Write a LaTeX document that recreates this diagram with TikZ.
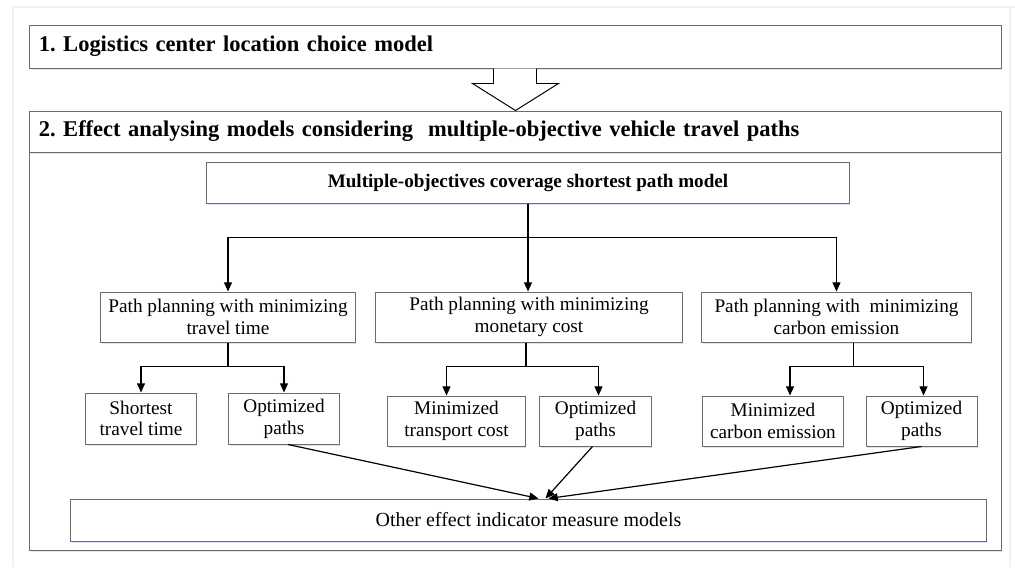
\documentclass[tikz,border=0pt]{standalone}
\usepackage{fontspec}
\setmainfont{Liberation Serif}
\usetikzlibrary{calc,arrows.meta,shadows}
\frenchspacing

\begin{document}
\begin{tikzpicture}[x=0.025cm,y=-0.025cm,
  box/.style={draw=gray!85!black, fill=white, line width=0.7pt, inner sep=0pt, align=center,
    font=\fontsize{13.7}{15.5}\selectfont,
    drop shadow={fill=blue!25!white, opacity=0.5, shadow xshift=0.6pt, shadow yshift=-1.4pt}},
  titlebox/.style={box, font=\fontsize{16}{19}\selectfont\bfseries, align=left,
    inner xsep=0.225cm, text width=23.825cm},
  link/.style={line width=0.85pt, -{Triangle[length=0.23cm,width=0.2cm]}}]
\useasboundingbox (0,0) rectangle (1015,567);
\draw[gray!12, line width=1.2pt] (13,567) -- (13,7) -- (1015,7);
\draw[gray!12, line width=1pt] (1010,7) -- (1010,567);

\node[box, minimum width=24.275cm, minimum height=9.95cm] (frame) at (515.5,351) {};
\node[titlebox, minimum height=1.025cm] (box2) at (515.5,131.5)
  {2. Effect analysing models considering\ \ multiple-objective vehicle travel paths};
\node[titlebox, minimum height=1.075cm] (box1) at (515.5,46.5) {1. Logistics center location choice model};
\draw[fill=white, line width=0.7pt, line join=miter] ($(box1.south)+(-22,0)$) -- ++(0,15) -- ++(-21,0)
  -- (box2.north) -- ($(box1.south)+(43,15)$) -- ++(-22,0) -- ++(0,-15);

\node[box, font=\fontsize{13.6}{15.4}\selectfont\bfseries, minimum width=16.05cm, minimum height=1.025cm] (model) at (528,182.5)
  {Multiple-objectives coverage shortest path model};

\node[box, minimum width=6.35cm, minimum height=1.25cm] (L1) at (228,317) {Path planning with minimizing\\travel time};
\node[box, minimum width=7.65cm, minimum height=1.25cm] (L2) at (529,317) {Path planning with minimizing\\monetary cost};
\node[box, minimum width=6.725cm, minimum height=1.25cm] (L3) at (836.5,317) {Path planning with\ \ minimizing\\carbon emission};

\node[box, minimum width=2.75cm, minimum height=1.275cm] (A) at (141,418.5) {Shortest\\travel time};
\node[box, minimum width=2.75cm, minimum height=1.275cm] (B) at (284,418.5) {Optimized\\paths};
\node[box, minimum width=3.425cm, minimum height=1.25cm] (C) at (456.5,421) {Minimized\\transport cost};
\node[box, minimum width=2.775cm, minimum height=1.25cm] (D) at (595.5,421) {Optimized\\paths};
\node[box, minimum width=3.5cm, minimum height=1.25cm] (E) at (773,421) {Minimized\\carbon emission};
\node[box, minimum width=2.775cm, minimum height=1.25cm] (F) at (921.5,421) {Optimized\\paths};

\node[box, font=\fontsize{14.2}{16}\selectfont, minimum width=22.875cm, minimum height=1.05cm] (other) at (528.5,520) {Other effect indicator measure models};

\draw[link] (model.south) -- (model.south |- L2.north);
\draw[link] (model.south) -- ++(0,34) -| (L1.north);
\draw[link] (model.south) -- ++(0,34) -| (L3.north);

\draw[link] (L1.south) -- ++(0,24) -| (A.north);
\draw[link] (L1.south) -- ++(0,24) -| (B.north);
\draw[link] ($(L2.south)+(-3,0)$) -- ++(0,24) -| ($(C.north)+(-10,0)$);
\draw[link] ($(L2.south)+(-3,0)$) -- ++(0,24) -| ($(D.north)+(3,0)$);
\draw[link] ($(L3.south)+(17,0)$) -- ++(0,24) -| ($(E.north)+(17,0)$);
\draw[link] ($(L3.south)+(17,0)$) -- ++(0,24) -| ($(F.north)+(2,0)$);

\draw[link] ($(B.south)+(4,0)$) -- ($(other.north)+(10,0)$);
\draw[link] ($(D.south)+(-3,0)$) -- ($(other.north)+(17,0)$);
\draw[link] (F.south) -- ($(other.north)+(20,0)$);
\end{tikzpicture}
\end{document}
